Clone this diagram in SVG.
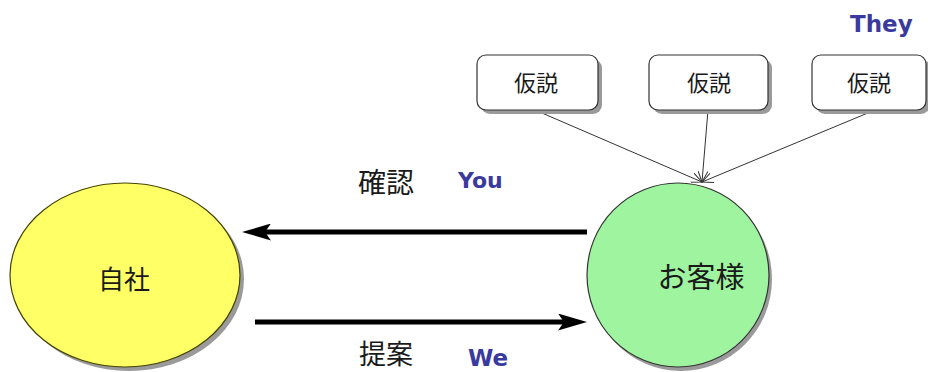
<svg xmlns="http://www.w3.org/2000/svg" width="928" height="372" viewBox="0 0 928 372">
  <defs>
    <style>
      .jp { font-family: "Noto Sans CJK JP", "Noto Sans", sans-serif; fill: #1a1a1a; text-anchor: middle; }
      .en { font-family: "DejaVu Sans", "Liberation Sans", sans-serif; font-weight: bold; fill: #3a3a9e; }
      .box { fill: #ffffff; stroke: #333333; stroke-width: 1.2; }
      .shadow { fill: #9a9a9a; }
      .thin { stroke: #333333; stroke-width: 1; fill: none; marker-end: url(#vhead); }
      .thick { stroke: #000000; stroke-width: 5; fill: none; marker-end: url(#bighead); }
    </style>
    <marker id="bighead" markerUnits="userSpaceOnUse" viewBox="0 0 29 17" refX="9" refY="8.5" markerWidth="29" markerHeight="17" orient="auto">
      <path d="M0,0 L29,8.5 L0,17 L6,8.5 z" fill="#000000"/>
    </marker>
    <marker id="vhead" markerUnits="userSpaceOnUse" viewBox="0 0 12 10" refX="11" refY="5" markerWidth="12" markerHeight="10" orient="auto">
      <path d="M0,0 L11,5 L0,10" fill="none" stroke="#333333" stroke-width="1"/>
    </marker>
  </defs>
  <rect width="928" height="372" fill="#ffffff"/>

  <g id="connectors">
    <line class="thin" x1="535" y1="110" x2="702" y2="182"/>
    <line class="thin" x1="708" y1="110" x2="702" y2="182"/>
    <line class="thin" x1="875" y1="110" x2="702" y2="182"/>
    <line class="thick" x1="587" y1="232" x2="262" y2="232"/>
    <line class="thick" x1="255" y1="322" x2="567" y2="322"/>
  </g>

  <g id="jisha">
    <ellipse cx="129" cy="279" rx="115" ry="92" class="shadow"/>
    <ellipse cx="125" cy="275" rx="115" ry="92" fill="#ffff66" stroke="#444400" stroke-width="1.2"/>
    <text class="jp" x="124" y="289" font-size="26">自社</text>
  </g>

  <g id="okyakusama">
    <ellipse cx="681" cy="279" rx="91" ry="92" class="shadow"/>
    <ellipse cx="678" cy="275" rx="91" ry="92" fill="#9ff59f" stroke="#333333" stroke-width="1.2"/>
    <text class="jp" x="701" y="288" font-size="29">お客様</text>
  </g>

  <g id="kasetsu1">
    <rect x="481" y="59" width="121" height="55" rx="9" class="shadow"/>
    <rect x="477" y="55" width="121" height="55" rx="9" class="box"/>
    <text class="jp" x="536" y="91" font-size="22">仮説</text>
  </g>
  <g id="kasetsu2">
    <rect x="653" y="59" width="119" height="55" rx="9" class="shadow"/>
    <rect x="649" y="55" width="119" height="55" rx="9" class="box"/>
    <text class="jp" x="709" y="91" font-size="22">仮説</text>
  </g>
  <g id="kasetsu3">
    <rect x="816" y="59" width="114" height="55" rx="9" class="shadow"/>
    <rect x="812" y="55" width="114" height="55" rx="9" class="box"/>
    <text class="jp" x="869" y="91" font-size="22">仮説</text>
  </g>

  <g id="labels">
    <text class="en" x="850" y="32" font-size="23">They</text>
    <text class="jp" x="386" y="193" font-size="28">確認</text>
    <text class="en" x="458" y="188" font-size="22">You</text>
    <text class="jp" x="386" y="364" font-size="27">提案</text>
    <text class="en" x="468" y="366" font-size="23">We</text>
  </g>
</svg>
